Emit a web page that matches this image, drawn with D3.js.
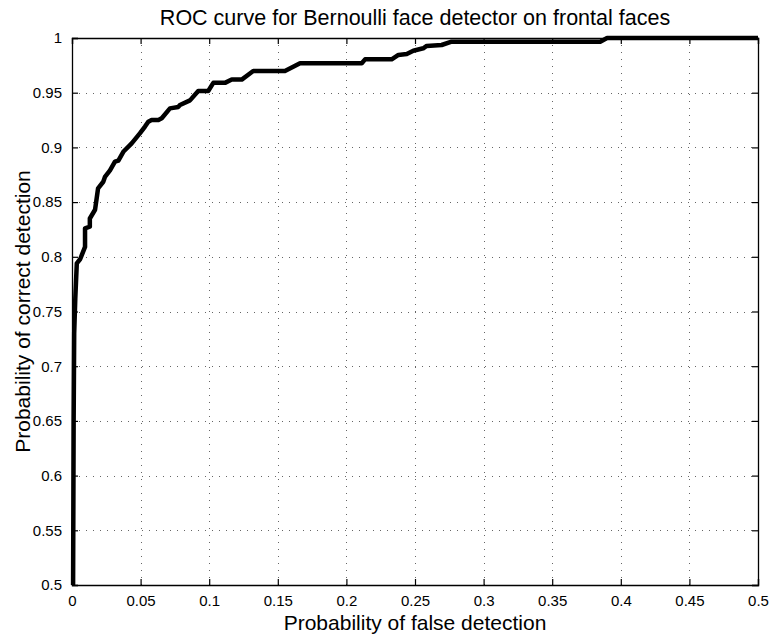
<!DOCTYPE html>
<html>
<head>
<meta charset="utf-8">
<script src="https://cdn.jsdelivr.net/npm/d3@7"></script>
<style>
  html, body { margin: 0; padding: 0; background: #fff; }
  svg { display: block; }
  text { font-family: "Liberation Sans", Arial, Helvetica, sans-serif; fill: #000; }
</style>
</head>
<body>
<svg id="chart" width="772" height="637"></svg>
<script>
const titleText = "ROC curve for Bernoulli face detector on frontal faces";
const xLabelText = "Probability of false detection";
const yLabelText = "Probability of correct detection";
const xTicks = [0, 0.05, 0.1, 0.15, 0.2, 0.25, 0.3, 0.35, 0.4, 0.45, 0.5];
const yTicks = [0.5, 0.55, 0.6, 0.65, 0.7, 0.75, 0.8, 0.85, 0.9, 0.95, 1];
const falseRate = [0.0008, 0.0012, 0.0016, 0.0024, 0.0035, 0.006, 0.0095, 0.0095, 0.013, 0.013, 0.0168, 0.019, 0.0228, 0.024, 0.0277, 0.0313, 0.0338, 0.0374, 0.0435, 0.0496, 0.0532, 0.0556, 0.058, 0.063, 0.0654, 0.0714, 0.0775, 0.0787, 0.086, 0.092, 0.0993, 0.103, 0.1115, 0.1164, 0.1237, 0.1321, 0.1552, 0.1662, 0.2112, 0.2136, 0.233, 0.2379, 0.244, 0.2488, 0.256, 0.2585, 0.2694, 0.2767, 0.385, 0.39, 0.5];
const correctRate = [0.5, 0.65, 0.73, 0.762, 0.794, 0.798, 0.809, 0.826, 0.8275, 0.835, 0.843, 0.8626, 0.8686, 0.873, 0.879, 0.887, 0.888, 0.896, 0.9037, 0.913, 0.919, 0.9235, 0.925, 0.925, 0.9266, 0.9357, 0.937, 0.9388, 0.943, 0.9516, 0.9516, 0.959, 0.959, 0.962, 0.962, 0.9698, 0.9698, 0.9769, 0.9769, 0.9805, 0.9805, 0.9845, 0.9854, 0.9884, 0.9906, 0.9927, 0.9936, 0.9966, 0.9966, 1.0, 1.0];

const L = 72, R = 758, T = 38, B = 585;
const svg = d3.select("#chart");
const x = d3.scaleLinear().domain([0, 0.5]).range([L, R]);
const y = d3.scaleLinear().domain([0.5, 1]).range([B, T]);
const fmt = d => String(d);

// grid
const grid = svg.append("g").attr("stroke", "#666").attr("stroke-width", 1).attr("stroke-dasharray", "1,6");
grid.selectAll(".gx").data(xTicks.slice(1, -1)).enter().append("line")
  .attr("x1", d => Math.round(x(d)) + 0.5).attr("x2", d => Math.round(x(d)) + 0.5)
  .attr("y1", T).attr("y2", B);
grid.selectAll(".gy").data(yTicks.slice(1, -1)).enter().append("line")
  .attr("y1", d => Math.round(y(d)) + 0.5).attr("y2", d => Math.round(y(d)) + 0.5)
  .attr("x1", L).attr("x2", R);

// axes (MATLAB style, ticks inward, box)
const tk = 6;
const axB = svg.append("g").attr("transform", `translate(0,${B})`)
  .call(d3.axisBottom(x).tickValues(xTicks).tickFormat(fmt).tickSize(-tk).tickPadding(10));
const axT = svg.append("g").attr("transform", `translate(0,${T})`)
  .call(d3.axisTop(x).tickValues(xTicks).tickFormat("").tickSize(-tk));
const axL = svg.append("g").attr("transform", `translate(${L},0)`)
  .call(d3.axisLeft(y).tickValues(yTicks).tickFormat(fmt).tickSize(-tk).tickPadding(10));
const axR = svg.append("g").attr("transform", `translate(${R},0)`)
  .call(d3.axisRight(y).tickValues(yTicks).tickFormat("").tickSize(-tk));
[axB, axT, axL, axR].forEach(a => {
  a.selectAll("path").attr("stroke", "#000").attr("stroke-width", 1.3);
  a.selectAll("line").attr("stroke", "#000").attr("stroke-width", 1.2);
  a.selectAll("text").attr("font-size", 15).attr("font-family", '"Liberation Sans", Arial, sans-serif').attr("fill", "#000");
});

// curve
const line = d3.line().x(d => x(d[0])).y(d => y(d[1]));
const pts = falseRate.map((v, i) => [v, correctRate[i]]);
svg.append("path").datum(pts).attr("d", line)
  .attr("fill", "none").attr("stroke", "#000").attr("stroke-width", 4.5)
  .attr("stroke-linejoin", "round").attr("stroke-linecap", "butt");

// labels
svg.append("text").attr("x", (L + R) / 2).attr("y", 25).attr("text-anchor", "middle")
  .attr("font-size", 21.5).text(titleText);
svg.append("text").attr("x", (L + R) / 2).attr("y", 630).attr("text-anchor", "middle")
  .attr("font-size", 21).text(xLabelText);
svg.append("text").attr("transform", `translate(30,${(T + B) / 2}) rotate(-90)`).attr("text-anchor", "middle")
  .attr("font-size", 21).text(yLabelText);
</script>
</body>
</html>
